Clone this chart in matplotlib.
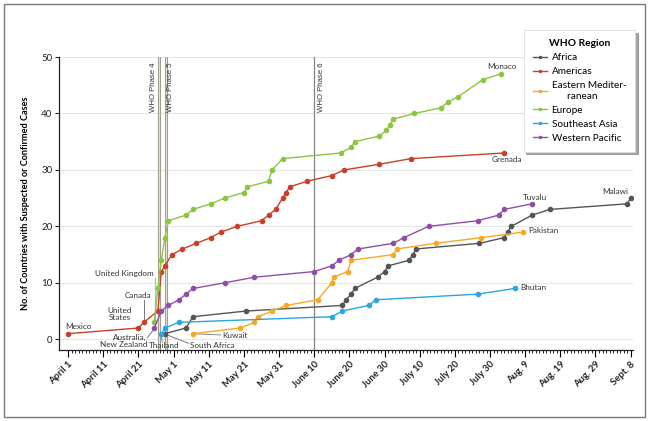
import numpy as np
import matplotlib
matplotlib.use('Agg')
import matplotlib.pyplot as plt
from matplotlib.patches import Rectangle

plt.rcParams['font.family'] = ['Lato', 'DejaVu Sans']

# days counted from April 1, 2009
AFRICA_DAY = [27.5, 33.5, 35.5, 50.5, 78, 79, 80.5, 81.5, 88, 90, 91, 97, 98, 99,
              117, 124, 125, 126, 132, 137, 159, 160]
AFRICA_N = [1, 2, 4, 5, 6, 7, 8, 9, 11, 12, 13, 14, 15, 16, 17, 18, 19, 20, 22, 23, 24, 25]

AMERICAS_DAY = [0, 20, 21.5, 25.5, 26.5, 27.5, 29.5, 32.5, 36.5, 40.5, 43.5, 48, 55, 57,
                59, 61, 62, 63, 68, 75, 78.5, 88.5, 97.5, 124]
AMERICAS_N = [1, 2, 3, 5, 12, 13, 15, 16, 17, 18, 19, 20, 21, 22, 23, 25, 26, 27, 28, 29,
              30, 31, 32, 33]

EMED_DAY = [35.5, 49, 53, 54, 58, 62, 71, 75, 75.5, 79.5, 80.5, 92.5, 93.5, 104.5, 117.5, 129.5]
EMED_N = [1, 2, 3, 4, 5, 6, 7, 10, 11, 12, 14, 15, 16, 17, 18, 19]

EUROPE_DAY = [24.5, 25.5, 26.5, 27.5, 28.5, 33.5, 35.5, 40.5, 44.5, 50, 51, 57, 58, 61,
              77.5, 80.5, 81.5, 88.5, 90.5, 91.5, 92.5, 98.5, 106, 108, 111, 118, 123]
EUROPE_N = [3, 9, 14, 18, 21, 22, 23, 24, 25, 26, 27, 28, 30, 32, 33, 34, 35, 36, 37, 38,
            39, 40, 41, 42, 43, 46, 47]

SEASIA_DAY = [26.5, 27.5, 31.5, 75, 78, 85.5, 87.5, 116.5, 127]
SEASIA_N = [1, 2, 3, 4, 5, 6, 7, 8, 9]

WPAC_DAY = [24.5, 26.5, 28.5, 31.5, 33.5, 35.5, 44.5, 53, 70, 75, 77, 80.5, 82.5, 92.5,
            95.5, 102.5, 116.5, 122.5, 124, 132]
WPAC_N = [2, 5, 6, 7, 8, 9, 10, 11, 12, 13, 14, 15, 16, 17, 18, 20, 21, 22, 23, 24]

TICK_DAYS = list(range(0, 161, 10))
TICK_LABELS = ['April 1', 'April 11', 'April 21', 'May 1', 'May 11', 'May 21', 'May 31',
               'June 10', 'June 20', 'June 30', 'July 10', 'July 20', 'July 30',
               'Aug. 9', 'Aug. 19', 'Aug. 29', 'Sept. 8']

PHASES = [('WHO Phase 4', 25.8), ('WHO Phase 5', 27.7), ('WHO Phase 6', 70)]

series = [
    ('Africa', AFRICA_DAY, AFRICA_N, '#555555'),
    ('Americas', AMERICAS_DAY, AMERICAS_N, '#c8402a'),
    ('Eastern Mediter-\n      ranean', EMED_DAY, EMED_N, '#f9a825'),
    ('Europe', EUROPE_DAY, EUROPE_N, '#8cc540'),
    ('Southeast Asia', SEASIA_DAY, SEASIA_N, '#2ba6de'),
    ('Western Pacific', WPAC_DAY, WPAC_N, '#8e4fa8'),
]

fig = plt.figure(figsize=(6.5, 4.21), dpi=100)
ax = fig.add_axes([0.0903, 0.1686, 0.8837, 0.696])

# outer frame
fig.patches.append(Rectangle((0.006, 0.0095), 0.986, 0.981, transform=fig.transFigure,
                             fill=False, edgecolor='#7a7a7a', lw=1.0))

for y in range(0, 51, 10):
    ax.axhline(y, color='#e6e6e6', lw=0.8, zorder=0)

# WHO phase lines
for name, d in PHASES[:2]:
    ax.axvline(d, color='#9a9484', lw=2.2, zorder=1)
    ax.axvline(d, color='#e4e0d6', lw=0.9, zorder=1)
ax.axvline(PHASES[2][1], color='#85857d', lw=0.9, zorder=1)
for name, x in [('WHO Phase 4', 24.4), ('WHO Phase 5', 29.2), ('WHO Phase 6', 72.1)]:
    ax.text(x, 49.1, name, rotation=90, ha='center', va='top', fontsize=5.6,
            family='Liberation Sans', color='#333333')

for name, d, n, c in series:
    ax.plot(d, n, '-o', color=c, lw=1.0, ms=3.0, label=name, zorder=3)

# point labels
fs = 5.9
tc = '#333333'
ax.text(-0.9, 2.35, 'Mexico', ha='left', va='center', fontsize=fs, color=tc)
ax.text(14.6, 4.5, 'United\nStates', ha='center', va='center', fontsize=fs, color=tc,
        linespacing=0.95)
ax.text(19.8, 7.7, 'Canada', ha='center', va='center', fontsize=fs, color=tc)
ax.plot([21.5, 21.5], [6.9, 3.2], color='#777777', lw=0.7)
ax.text(24.4, 11.7, 'United Kingdom', ha='right', va='center', fontsize=fs, color=tc)
ax.plot([24.6, 24.6], [10.8, 3.3], color='#a9b9c9', lw=0.9)
ax.text(22.4, -0.3, 'Australia,\nNew Zealand', ha='right', va='center', fontsize=fs,
        color=tc, multialignment='right', linespacing=0.95)
ax.plot([22.5, 24.3], [0.3, 1.7], color='#777777', lw=0.7)
ax.text(27.4, -1.15, 'Thailand', ha='center', va='center', fontsize=fs, color=tc)
ax.plot([26.5, 26.7], [0.9, -0.3], color='#777777', lw=0.7)
ax.text(34.6, -1.05, 'South Africa', ha='left', va='center', fontsize=fs, color=tc)
ax.plot([27.6, 34.2], [0.9, -0.7], color='#777777', lw=0.7)
ax.text(43.9, 0.75, 'Kuwait', ha='left', va='center', fontsize=fs, color=tc)
ax.plot([36.3, 43.4], [0.95, 0.78], color='#888888', lw=0.7)
ax.text(123.3, 48.3, 'Monaco', ha='center', va='center', fontsize=fs, color=tc)
ax.text(124.7, 31.9, 'Grenada', ha='center', va='center', fontsize=fs, color=tc)
ax.text(132.7, 25.1, 'Tuvalu', ha='center', va='center', fontsize=fs, color=tc)
ax.text(131.0, 19.2, 'Pakistan', ha='left', va='center', fontsize=fs, color=tc)
ax.text(128.6, 9.1, 'Bhutan', ha='left', va='center', fontsize=fs, color=tc)
ax.text(159.4, 26.1, 'Malawi', ha='right', va='center', fontsize=fs, color=tc)

ax.set_xlim(-2.7, 160.7)
ax.set_ylim(-1.9, 50)
ax.set_xticks(TICK_DAYS)
ax.set_xticklabels(TICK_LABELS, rotation=45, ha='right', rotation_mode='anchor',
                   fontsize=6.8, fontweight='bold', color='#222222')
ax.set_xticks(np.arange(0, 161, 1), minor=True)
ax.set_yticks(range(0, 51, 10))
ax.tick_params(axis='y', labelsize=7, length=3, width=0.8, pad=1.5, colors='#222222')
ax.tick_params(axis='x', which='major', length=5, width=0.8, pad=2)
ax.tick_params(axis='x', which='minor', length=2.5, width=0.6)
for s in ['top', 'right']:
    ax.spines[s].set_visible(False)
for s in ['left', 'bottom']:
    ax.spines[s].set_linewidth(0.9)
    ax.spines[s].set_color('#222222')
ax.set_ylabel('No. of Countries with Suspected or Confirmed Cases', fontsize=6.6,
              fontweight='bold', labelpad=8)

leg = ax.legend(loc='upper right', bbox_to_anchor=(0.985, 0.94), bbox_transform=fig.transFigure,
                title='WHO Region', fontsize=7.2, title_fontproperties={'weight': 'bold', 'size': 7.4},
                handlelength=1.4, markerscale=0.5, frameon=True, fancybox=False, shadow=True,
                borderpad=0.9, labelspacing=0.5, handletextpad=0.5)
leg.get_frame().set_edgecolor('#dddddd')
leg.get_frame().set_linewidth(0.6)

fig.savefig('out.png', dpi=100)
